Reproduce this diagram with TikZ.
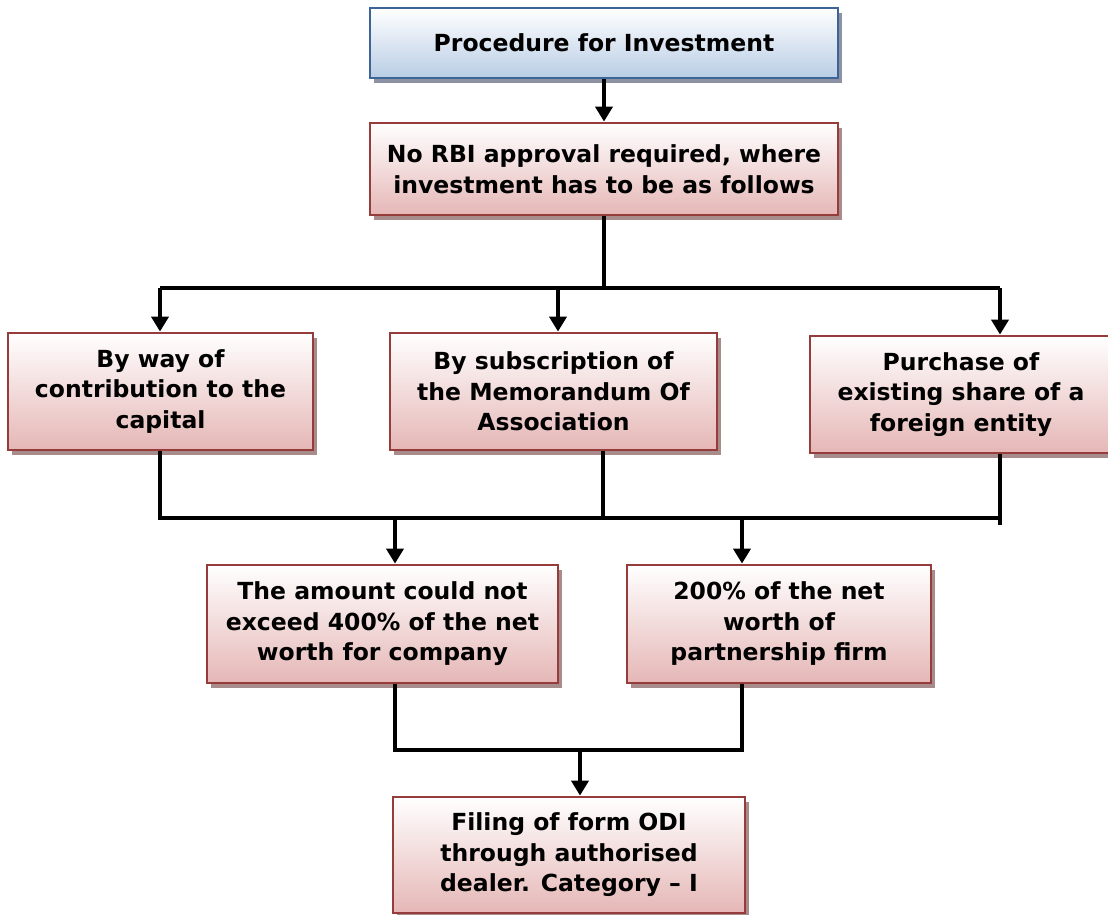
\documentclass[tikz,border=0pt]{standalone}
\usepackage{fontspec}
\setmainfont{DejaVu Sans}
\usetikzlibrary{shadows,arrows.meta}
\definecolor{redline}{RGB}{150,60,58}
\definecolor{redfill}{RGB}{229,183,182}
\definecolor{blueline}{RGB}{60,100,150}
\definecolor{bluefill}{RGB}{185,205,229}
\definecolor{redshade}{RGB}{168,140,140}
\definecolor{blueshade}{RGB}{140,146,162}

\tikzset{
  boxbase/.style={line width=2.8pt, top color=white, inner sep=0pt, align=center,
    font=\fontsize{23.5}{30.5}\selectfont\bfseries},
  redbox/.style={boxbase, draw=redline, bottom color=redfill,
    drop shadow={shadow xshift=4pt, shadow yshift=-5pt, fill=redshade, opacity=1}},
  bluebox/.style={boxbase, draw=blueline, bottom color=bluefill,
    drop shadow={shadow xshift=4pt, shadow yshift=-5pt, fill=blueshade, opacity=1}},
  wire/.style={line width=4pt, line join=miter},
  arr/.style={wire, -{Triangle[width=17pt,length=15pt]}}
}

\begin{document}
\begin{tikzpicture}[x=1pt,y=-1pt]
\useasboundingbox (0,0) rectangle (1108,915);

% boxes
\node[bluebox, minimum width=468pt, minimum height=70pt] (top) at (604,43)
  {Procedure for Investment};
\node[redbox, minimum width=468pt, minimum height=92pt] (rbi) at (604,169)
  {No RBI approval required, where\\investment has to be as follows};

\node[redbox, minimum width=305pt, minimum height=117pt] (L) at (160.5,391.5)
  {By way of\\contribution to the\\capital};
\node[redbox, minimum width=327pt, minimum height=117pt] (M) at (553.5,391.5)
  {By subscription of\\the Memorandum Of\\Association};
\node[redbox, minimum width=302pt, minimum height=117pt] (R) at (961,394.5)
  {Purchase of\\existing share of a\\foreign entity};

\node[redbox, minimum width=351pt, minimum height=118pt] (C1) at (382.5,624)
  {The amount could not\\exceed 400\% of the net\\worth for company};
\node[redbox, minimum width=304pt, minimum height=118pt] (C2) at (779,624)
  {200\% of the net\\worth of\\partnership firm};

\node[redbox, minimum width=352pt, minimum height=116pt] (F) at (569,855)
  {Filing of form ODI\\through authorised\\dealer. Category -- I};

% first level
\draw[arr] (top.south) -- (rbi.north);

% split to the three ways of investing
\coordinate (bus) at (604,288);
\coordinate (busL) at (160,288);
\coordinate (busM) at (558,288);
\coordinate (busR) at (1000,288);
\draw[wire] (rbi.south) -- (bus);
\draw[wire] (busL) -- (busR);
\draw[arr] (busL) -- (busL |- L.north);
\draw[arr] (busM) -- (busM |- M.north);
\draw[arr] (busR) -- (busR |- R.north);

% gather and split to the limits
\coordinate (j1) at (160,518);
\coordinate (j2) at (603,518);
\coordinate (j3) at (1000,518);
\coordinate (j3end) at (1000,525);
\draw[wire] (j1 |- L.south) -- (j1) -- (j3);
\draw[wire] (j3 |- R.south) -- (j3end);
\draw[wire] (j2 |- M.south) -- (j2);
\coordinate (d1) at (395,518);
\coordinate (d2) at (742,518);
\draw[arr] (d1) -- (d1 |- C1.north);
\draw[arr] (d2) -- (d2 |- C2.north);

% gather to the filing
\coordinate (e1) at (395,750);
\coordinate (e2) at (742,750);
\coordinate (e3) at (580,750);
\draw[wire] (e1 |- C1.south) -- (e1) -- (e2) -- (e2 |- C2.south);
\draw[arr] (e3) -- (e3 |- F.north);
\end{tikzpicture}
\end{document}
